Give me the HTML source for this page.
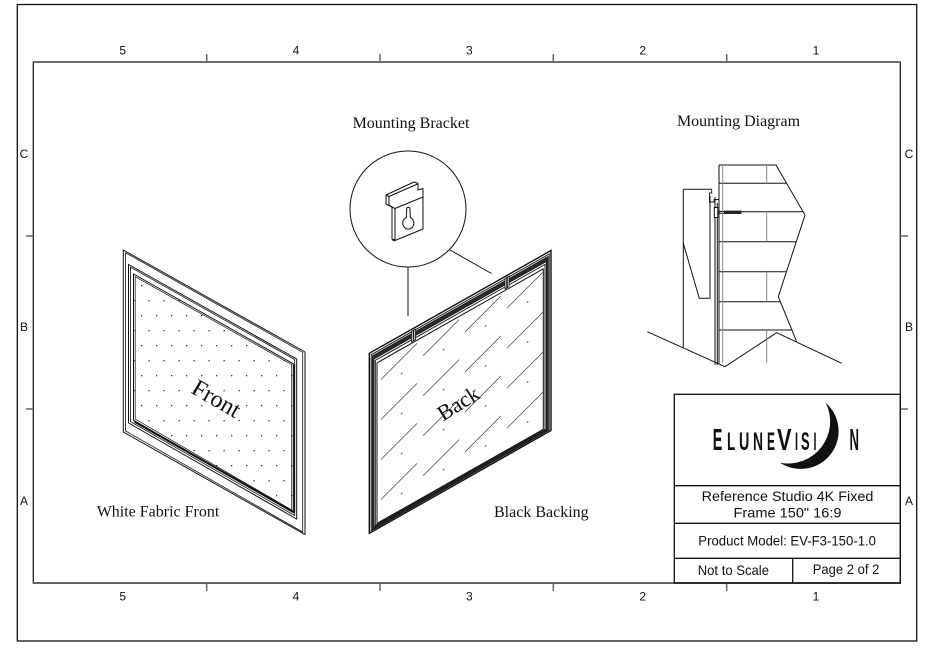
<!DOCTYPE html>
<html><head><meta charset="utf-8"><style>
html,body{margin:0;padding:0;background:#fff;}
svg{display:block;}
</style></head><body>
<svg width="932" height="652" viewBox="0 0 932 652" xmlns="http://www.w3.org/2000/svg">
<defs>
  <pattern id="dots" patternUnits="userSpaceOnUse" x="141" y="285" width="15" height="30">
    <rect x="0" y="0" width="1.3" height="1.3" fill="#333"/>
    <rect x="7.5" y="15" width="1.3" height="1.3" fill="#333"/>
  </pattern>
  <pattern id="hatch" patternUnits="userSpaceOnUse" x="377" y="362" width="42" height="40" patternTransform="skewY(-29.5)">
    <line x1="4" y1="33" x2="40" y2="17.4" stroke="#222" stroke-width="0.8"/>
    <rect x="24" y="38" width="1.3" height="1.3" fill="#333"/>
  </pattern>
</defs>
<rect width="932" height="652" fill="#fff"/>

<!-- Borders -->
<rect x="17.3" y="4.5" width="899.4" height="636.5" fill="none" stroke="#111" stroke-width="1.3"/>
<rect x="33.3" y="62" width="867" height="521" fill="none" stroke="#222" stroke-width="1.3"/>
<line x1="33.3" y1="62" x2="900.3" y2="62" stroke="#555" stroke-width="1.6"/>
<line x1="33.3" y1="583" x2="900.3" y2="583" stroke="#666" stroke-width="2"/>
<g stroke="#666" stroke-width="1.5">
  <line x1="206.7" y1="54" x2="206.7" y2="62"/><line x1="380" y1="54" x2="380" y2="62"/>
  <line x1="553.3" y1="54" x2="553.3" y2="62"/><line x1="726.7" y1="54" x2="726.7" y2="62"/>
  <line x1="206.7" y1="583" x2="206.7" y2="591"/><line x1="380" y1="583" x2="380" y2="591"/>
  <line x1="553.3" y1="583" x2="553.3" y2="591"/><line x1="726.7" y1="583" x2="726.7" y2="591"/>
  <line x1="26" y1="236" x2="33.3" y2="236"/><line x1="26" y1="409" x2="33.3" y2="409"/>
  <line x1="900.3" y1="236" x2="908" y2="236"/><line x1="900.3" y1="409" x2="908" y2="409"/>
</g>
<g font-family="Liberation Sans, sans-serif" font-size="12" fill="#111" text-anchor="middle">
  <text x="122.7" y="54.5">5</text><text x="296" y="54.5">4</text><text x="469.3" y="54.5">3</text><text x="642.7" y="54.5">2</text><text x="816" y="54.5">1</text>
  <text x="122.7" y="600.5">5</text><text x="296" y="600.5">4</text><text x="469.3" y="600.5">3</text><text x="642.7" y="600.5">2</text><text x="816" y="600.5">1</text>
  <text x="24" y="158">C</text><text x="24" y="331">B</text><text x="24" y="505">A</text>
  <text x="909" y="158">C</text><text x="909" y="331">B</text><text x="909" y="505">A</text>
</g>

<!-- Labels -->
<g font-family="Liberation Serif, serif" font-size="16" fill="#111">
  <text x="411" y="128" text-anchor="middle">Mounting Bracket</text>
  <text x="738.5" y="126" text-anchor="middle">Mounting Diagram</text>
  <text x="96.7" y="516.7">White Fabric Front</text>
  <text x="494" y="517">Black Backing</text>
</g>

<!-- Front frame -->
<g fill="none" stroke="#111" stroke-width="1">
  <polygon points="123.3,250 305,352 305,534.5 123.3,432"/>
  <polygon points="125.6,252.8 302.7,352.3 302.7,532 125.6,431" stroke-width="0.8"/>
  <polygon points="128.5,264.5 296.7,359 296.7,519 128.5,423"/>
  <polygon points="130.5,267.2 294.7,359.5 294.7,515.5 130.5,421.6" stroke-width="0.8"/>
  <polygon points="133.5,274 293.3,363.8 293.3,511.5 133.5,420.3" fill="url(#dots)"/>
  <polygon points="135.2,276.7 291.7,364.6 291.7,510 135.2,419" stroke-width="0.7"/>
  <line x1="134.5" y1="421.6" x2="294.3" y2="512.6" stroke-width="2"/>
  <line x1="294.4" y1="364.5" x2="294.4" y2="512.5" stroke-width="1.4"/>
</g>
<text transform="translate(212.5,405.4) rotate(30)" text-anchor="middle" font-family="Liberation Serif, serif" font-size="24" fill="#111">Front</text>

<!-- Bracket callout -->
<circle cx="408" cy="209" r="58" fill="none" stroke="#111" stroke-width="1"/>
<line x1="408" y1="267" x2="408" y2="316" stroke="#111" stroke-width="1"/>
<line x1="450" y1="250" x2="491.5" y2="273.5" stroke="#111" stroke-width="1"/>
<g fill="none" stroke="#111" stroke-width="1" stroke-linejoin="round">
  <polygon points="386,195 414,182 418,183.5 418,190 423,188.5 423,229 395,240.5 392,239 392,207 386,204" fill="#fff"/>
  <polyline points="386,195 389,196.5 417.5,184"/>
  <polyline points="389,196.5 389,205 392,207"/>
  <polyline points="392,207 395,208.5 423,197"/>
  <line x1="395" y1="208.5" x2="395" y2="240.5"/>
  <line x1="392.5" y1="239.5" x2="395" y2="240.5" stroke-width="2"/>
  <path d="M406.7,208.5 A1.7,1.7 0 0 1 410,208.5 L410.3,217.5 A5.5,6 0 1 1 406.3,217.5 Z"/>
</g>

<!-- Back frame -->
<g fill="none" stroke="#111" stroke-width="1">
  <polygon points="369.3,353.3 551,250.5 551,430.5 369.3,533.3" stroke-width="1.4"/>
  <polygon points="371.1,354.8 549.2,254 549.2,430 371.1,530.8" stroke-width="0.9"/>
  <path fill-rule="evenodd" fill="#2a2a2a" stroke="#111" stroke-width="0.6" d="M372.1,355.9 L548.2,256.3 L548.2,429.8 L372.1,529.5 Z M374.1,359.1 L546.2,261.7 L546.2,429.4 L374.1,526.8 Z"/>
  <polygon points="375.3,360.4 545,264.4 545,429.3 375.3,525.4" stroke-width="0.9"/>
  <polygon points="377,362.9 543.3,268.8 543.3,429.3 377,523.4" fill="url(#hatch)" stroke-linejoin="round"/>
</g>
<g stroke="#111" stroke-width="0.8">
  <polygon points="411.5,331.4 415.5,329.1 415.5,339.6 411.5,341.9" fill="#fff"/>
  <line x1="413.5" y1="330.3" x2="413.5" y2="340.8" stroke-width="1.5"/>
  <polygon points="505,278.5 509,276.2 509,286.7 505,289" fill="#fff"/>
  <line x1="507" y1="277.4" x2="507" y2="287.9" stroke-width="1.5"/>
</g>
<text transform="translate(462.2,409.5) rotate(-32)" text-anchor="middle" font-family="Liberation Serif, serif" font-size="22" fill="#111">Back</text>

<!-- Mounting diagram -->
<g fill="none" stroke="#111" stroke-width="1">
  <polyline points="719,165 776,165 805,215 778.3,296.7 796.7,341.7"/>
  <line x1="719" y1="165" x2="719" y2="363.3"/>
  <line x1="719" y1="183.3" x2="786.6" y2="183.3"/>
  <line x1="719" y1="211.7" x2="803.1" y2="211.7"/>
  <line x1="719" y1="241.7" x2="796.3" y2="241.7"/>
  <line x1="719" y1="271.7" x2="786.5" y2="271.7"/>
  <line x1="719" y1="301.7" x2="780.3" y2="301.7"/>
  <line x1="719" y1="330" x2="791.9" y2="330"/>
  <polyline points="647.3,331.7 725,366.7 776.7,332.7 841.7,363.3"/>
  <line x1="683.3" y1="189.3" x2="683.3" y2="348"/>
  <line x1="683.3" y1="189.3" x2="711.7" y2="189.3"/>
  <polyline points="683.3,243.3 699.3,298.3 710,298.3 710,196"/>
  <line x1="715" y1="197" x2="715" y2="365"/>
  <line x1="717.3" y1="203" x2="717.3" y2="365"/>
  <polyline points="711.7,189.3 711.7,193 709.5,193 709.5,202 714,202 714,199.5 719,199.5" stroke-width="0.9"/>
  <rect x="714.3" y="207.5" width="3.5" height="10" fill="#fff"/>
  <line x1="718" y1="211.3" x2="724" y2="211.3" stroke-width="0.8"/>
  <line x1="718" y1="213.5" x2="724" y2="213.5" stroke-width="0.8"/>
</g>
<rect x="724" y="210.6" width="17.5" height="3.4" fill="#222"/>
<g stroke="#888" stroke-width="1">
  <line x1="722.7" y1="165" x2="722.7" y2="363.3"/>
  <line x1="766.7" y1="165" x2="766.7" y2="183.3"/>
  <line x1="766.7" y1="211.7" x2="766.7" y2="241.7"/>
  <line x1="766.7" y1="271.7" x2="766.7" y2="301.7"/>
  <line x1="766.7" y1="330" x2="766.7" y2="363"/>
</g>

<!-- Title block -->
<g fill="none" stroke="#111" stroke-width="1.3">
  <rect x="674.3" y="394.3" width="226" height="188.7"/>
  <line x1="674.3" y1="485.7" x2="900.3" y2="485.7"/>
  <line x1="674.3" y1="523.3" x2="900.3" y2="523.3"/>
  <line x1="674.3" y1="558.3" x2="900.3" y2="558.3"/>
  <line x1="792.7" y1="558.3" x2="792.7" y2="583"/>
</g>
<path d="M825.7,402.7 A37.8,37.8 0 0 1 780,462.7 A42,42 0 0 0 825.7,402.7 Z" fill="#111"/>
<g font-family="Liberation Sans, sans-serif" font-weight="bold" fill="#111">
  <text x="712.7" y="450" font-size="31" textLength="9.6" lengthAdjust="spacingAndGlyphs">E</text>
  <text x="727" y="450" font-size="25" textLength="8.3" lengthAdjust="spacingAndGlyphs">L</text>
  <text x="739" y="450" font-size="25" textLength="10.3" lengthAdjust="spacingAndGlyphs">U</text>
  <text x="753" y="450" font-size="25" textLength="10" lengthAdjust="spacingAndGlyphs">N</text>
  <text x="767" y="450" font-size="25" textLength="8" lengthAdjust="spacingAndGlyphs">E</text>
  <text x="777" y="450" font-size="31" textLength="14.5" lengthAdjust="spacingAndGlyphs">V</text>
  <text x="795" y="450" font-size="25" textLength="3" lengthAdjust="spacingAndGlyphs">I</text>
  <text x="801" y="450" font-size="25" textLength="8.6" lengthAdjust="spacingAndGlyphs">S</text>
  <text x="813.5" y="450" font-size="25" textLength="3" lengthAdjust="spacingAndGlyphs">I</text>
  <text x="849.5" y="450" font-size="31" textLength="9.5" lengthAdjust="spacingAndGlyphs">N</text>
</g>
<g font-family="Liberation Sans, sans-serif" font-size="14" fill="#111">
  <text x="701.7" y="501" textLength="171.7" lengthAdjust="spacingAndGlyphs">Reference Studio 4K Fixed</text>
  <text x="733.5" y="517.7" textLength="108" lengthAdjust="spacingAndGlyphs">Frame 150" 16:9</text>
  <text x="698.3" y="545.3" textLength="177.7" lengthAdjust="spacingAndGlyphs">Product Model: EV-F3-150-1.0</text>
  <text x="697.7" y="575" textLength="71.3" lengthAdjust="spacingAndGlyphs">Not to Scale</text>
  <text x="812.7" y="574" textLength="66.7" lengthAdjust="spacingAndGlyphs">Page 2 of 2</text>
</g>
</svg>
</body></html>
